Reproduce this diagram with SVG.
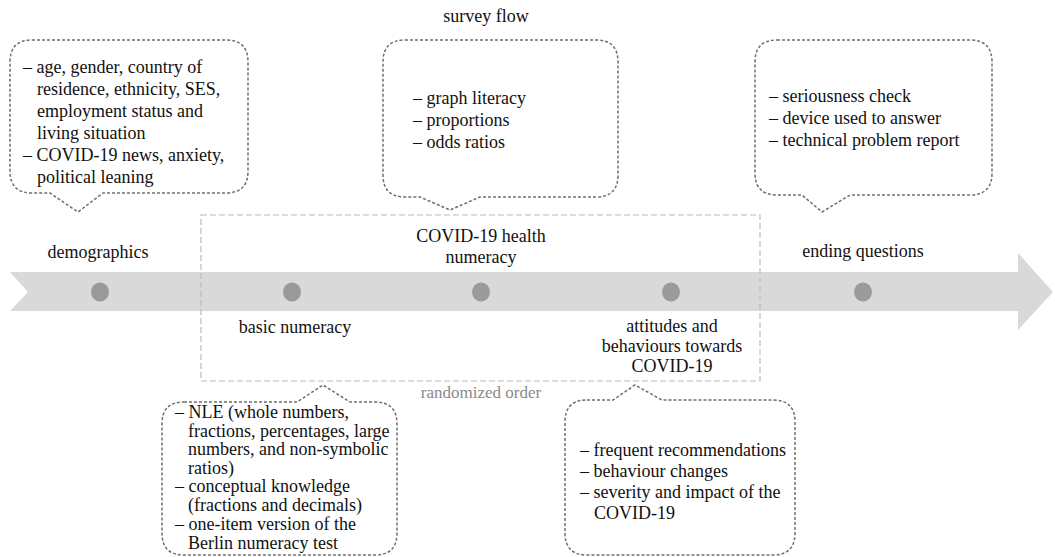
<svg xmlns="http://www.w3.org/2000/svg" width="1055" height="557" viewBox="0 0 1055 557">
<style>
text{font-family:"Liberation Serif","Times New Roman",serif;font-size:18px;fill:#111}
.c{text-anchor:middle}
.g{fill:#8a8a8a;font-size:17px}
.callout{fill:#fff;stroke:#6f6f6f;stroke-width:1.5;stroke-dasharray:3 2}
.dot{fill:#9a9a9a}
</style>
<rect width="1055" height="557" fill="#fff"/>
<g id="connectors">
<polygon points="10,272 1018,272 1018,253 1053,292 1018,330 1018,311 10,311 28,292" fill="#d9d9d9"/>
<rect x="201" y="215" width="559" height="166" fill="none" stroke="#bbb" stroke-width="1.2" stroke-dasharray="6 3"/>
</g>
<g id="stage-demographics">
<ellipse class="dot" cx="100" cy="292" rx="9" ry="9.5"/>
<text class="c" x="98" y="258">demographics</text>
</g>
<g id="stage-basic-numeracy">
<ellipse class="dot" cx="292" cy="292" rx="9" ry="9.5"/>
<text class="c" x="295" y="333">basic numeracy</text>
</g>
<g id="stage-health-numeracy">
<ellipse class="dot" cx="481" cy="292" rx="9" ry="9.5"/>
<text class="c" x="481" y="242">COVID-19 health</text>
<text class="c" x="481" y="263">numeracy</text>
</g>
<g id="stage-attitudes">
<ellipse class="dot" cx="671" cy="292" rx="9" ry="9.5"/>
<text class="c" x="672" y="332">attitudes and</text>
<text class="c" x="672" y="352">behaviours towards</text>
<text class="c" x="672" y="372">COVID-19</text>
</g>
<g id="stage-ending">
<ellipse class="dot" cx="863" cy="292" rx="9" ry="9.5"/>
<text class="c" x="863" y="257">ending questions</text>
</g>
<g id="title">
<text class="c" x="486" y="22">survey flow</text>
</g>
<g id="randomized-label">
<text class="c g" x="481" y="398">randomized order</text>
</g>
<g id="callout-demographics">
<path class="callout" d="M32,40 H226 Q248,40 248,62 V171 Q248,193 226,193 H103 L78,212 L50,193 H32 Q10,193 10,171 V62 Q10,40 32,40 Z"/>
<text x="23" y="73">– age, gender, country of</text>
<text x="37" y="95">residence, ethnicity, SES,</text>
<text x="37" y="117">employment status and</text>
<text x="37" y="139">living situation</text>
<text x="23" y="161">– COVID-19 news, anxiety,</text>
<text x="37" y="183">political leaning</text>
</g>
<g id="callout-health-numeracy">
<path class="callout" d="M405,40 H596 Q618,40 618,62 V175 Q618,197 596,197 H480 L450,210 L420,197 H405 Q383,197 383,175 V62 Q383,40 405,40 Z"/>
<text x="413" y="104">– graph literacy</text>
<text x="413" y="126">– proportions</text>
<text x="413" y="148">– odds ratios</text>
</g>
<g id="callout-ending">
<path class="callout" d="M777,40 H970 Q992,40 992,62 V173 Q992,195 970,195 H850 L822,212 L802,195 H777 Q755,195 755,173 V62 Q755,40 777,40 Z"/>
<text x="769" y="102">– seriousness check</text>
<text x="769" y="124">– device used to answer</text>
<text x="769" y="146">– technical problem report</text>
</g>
<g id="callout-basic-numeracy">
<path class="callout" d="M184,402 H297 L323,385 L350,402 H375 Q397,402 397,424 V533 Q397,555 375,555 H184 Q162,555 162,533 V424 Q162,402 184,402 Z"/>
<text x="175" y="418">– NLE (whole numbers,</text>
<text x="188" y="437">fractions, percentages, large</text>
<text x="188" y="455">numbers, and non-symbolic</text>
<text x="188" y="474">ratios)</text>
<text x="175" y="492">– conceptual knowledge</text>
<text x="188" y="511">(fractions and decimals)</text>
<text x="175" y="530">– one-item version of the</text>
<text x="188" y="549">Berlin numeracy test</text>
</g>
<g id="callout-attitudes">
<path class="callout" d="M587,400 H613 L635,385 L662,400 H773 Q795,400 795,422 V533 Q795,555 773,555 H587 Q565,555 565,533 V422 Q565,400 587,400 Z"/>
<text x="580" y="456">– frequent recommendations</text>
<text x="580" y="477">– behaviour changes</text>
<text x="580" y="498">– severity and impact of the</text>
<text x="594" y="519">COVID-19</text>
</g>
</svg>
